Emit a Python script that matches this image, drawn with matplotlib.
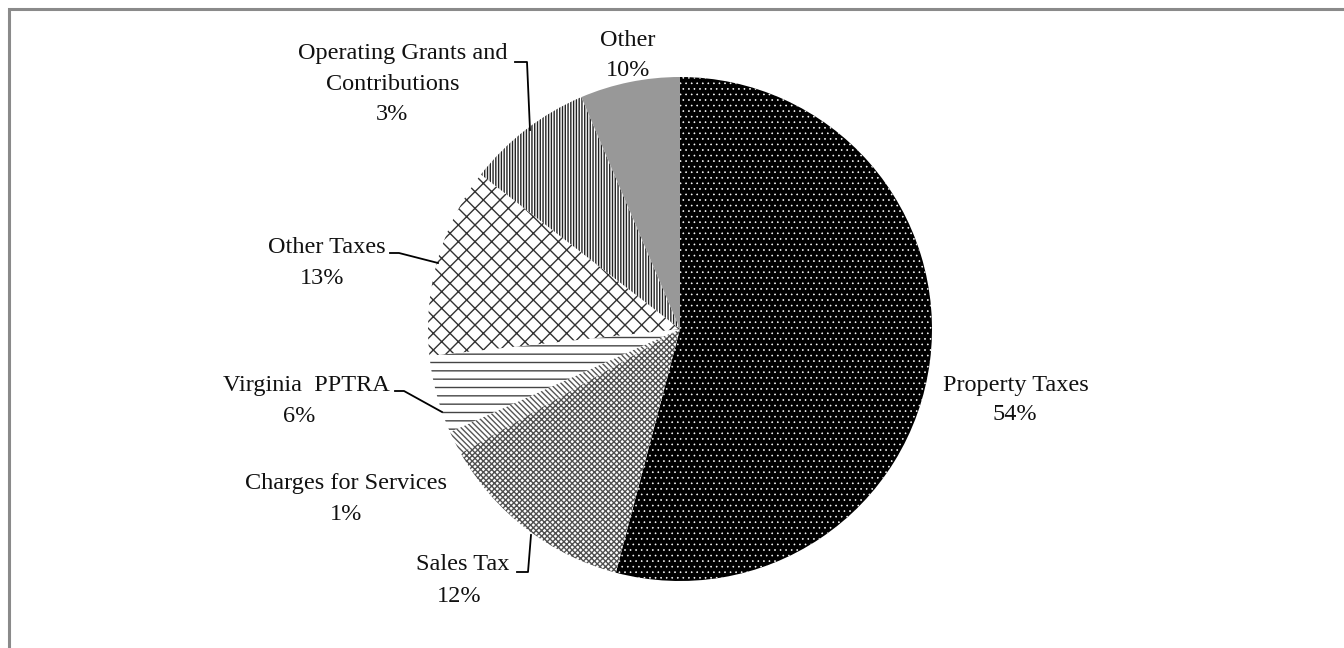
import matplotlib
matplotlib.use("Agg")
import matplotlib.pyplot as plt
from matplotlib.patches import Rectangle
from matplotlib.lines import Line2D

# ---- data ----
categories = ["Property Taxes", "Sales Tax", "Charges for Services", "Virginia  PPTRA",
              "Other Taxes", "Operating Grants and Contributions", "Other"]
# slice sizes as drawn in the picture (percent of circle)
slice_values = [54.1, 12.7, 1.5, 5.0, 12.2, 8.1, 6.4]
# percentage texts printed on the chart
pct_labels = ["54%", "12%", "1%", "6%", "13%", "3%", "10%"]

# ---- styles ----
faces = ["black", "white", "white", "white", "white", "white", "#989898"]
hatch_colors = ["white", "#505050", "#555555", "#444444", "#333333", "#222222", "#989898"]
hatches = ["...", "xxxxxx", "\\\\\\\\\\\\", "--", "xx", "||||||", None]
hatch_lw = [0.45, 1.0, 1.0, 1.0, 1.0, 1.0, 1.0]

W, H = 1344, 648
fig = plt.figure(figsize=(W / 100, H / 100), dpi=100)
fig.patch.set_facecolor("white")

def fx(x):
    return x / W

def fy(y):
    return 1 - y / H

# outer frame (continues past right and bottom edges)
fig.patches.append(Rectangle((fx(8.5), fy(H + 20)), fx(W + 40), (H + 20 - 8.5) / H,
                             transform=fig.transFigure, fill=False,
                             edgecolor="#8a8a8a", linewidth=2.2))

plt.rcParams["hatch.linewidth"] = 1.0

cx, cy, r = 680, 329, 252
ax = fig.add_axes([fx(cx - r), fy(cy + r), 2 * r / W, 2 * r / H])
wedges, _ = ax.pie(slice_values, startangle=90, counterclock=False,
                   radius=1.0, wedgeprops=dict(linewidth=0))
for w, fc, hc, h, hl in zip(wedges, faces, hatch_colors, hatches, hatch_lw):
    w.set_facecolor(fc)
    w.set_edgecolor(hc)
    w.set_linewidth(0)
    if h:
        w.set_hatch(h)
    if hasattr(w, "set_hatch_linewidth"):
        w.set_hatch_linewidth(hl)
ax.set_xlim(-1, 1)
ax.set_ylim(-1, 1)
ax.set_aspect("auto")
ax.axis("off")

font = dict(family="Liberation Serif", fontsize=17.5, color="#111111")

# label layout: (text, x_center, y_center) in pixels from top-left
label_layout = {
    0: [(categories[0], 1016, 386), (pct_labels[0], 1015, 415)],
    1: [("Sales Tax", 463, 565), (pct_labels[1], 459, 597)],
    2: [(categories[2], 346, 483), (pct_labels[2], 346, 515)],
    3: [(categories[3], 306, 385), (pct_labels[3], 299, 416)],
    4: [(categories[4], 327, 248), (pct_labels[4], 322, 279)],
    5: [("Operating Grants and", 403, 53), ("Contributions", 393, 85), (pct_labels[5], 392, 115)],
    6: [(categories[6], 628, 40), (pct_labels[6], 628, 70)],
}
for idx, lines in label_layout.items():
    for txt, x, y in lines:
        fig.text(fx(x), fy(y), txt, ha="center", va="center", **font)

# leader lines (pixels)
leaders = [
    [(515, 62), (527, 62), (530, 130)],
    [(390, 253), (399, 253), (438, 263)],
    [(395, 391), (404, 391), (442, 412)],
    [(517, 572), (528, 572), (531, 535)],
]
for pts in leaders:
    xs = [fx(p[0]) for p in pts]
    ys = [fy(p[1]) for p in pts]
    fig.lines.append(Line2D(xs, ys, transform=fig.transFigure, color="black", linewidth=1.3))

fig.savefig("out.png", dpi=100, facecolor="white")
